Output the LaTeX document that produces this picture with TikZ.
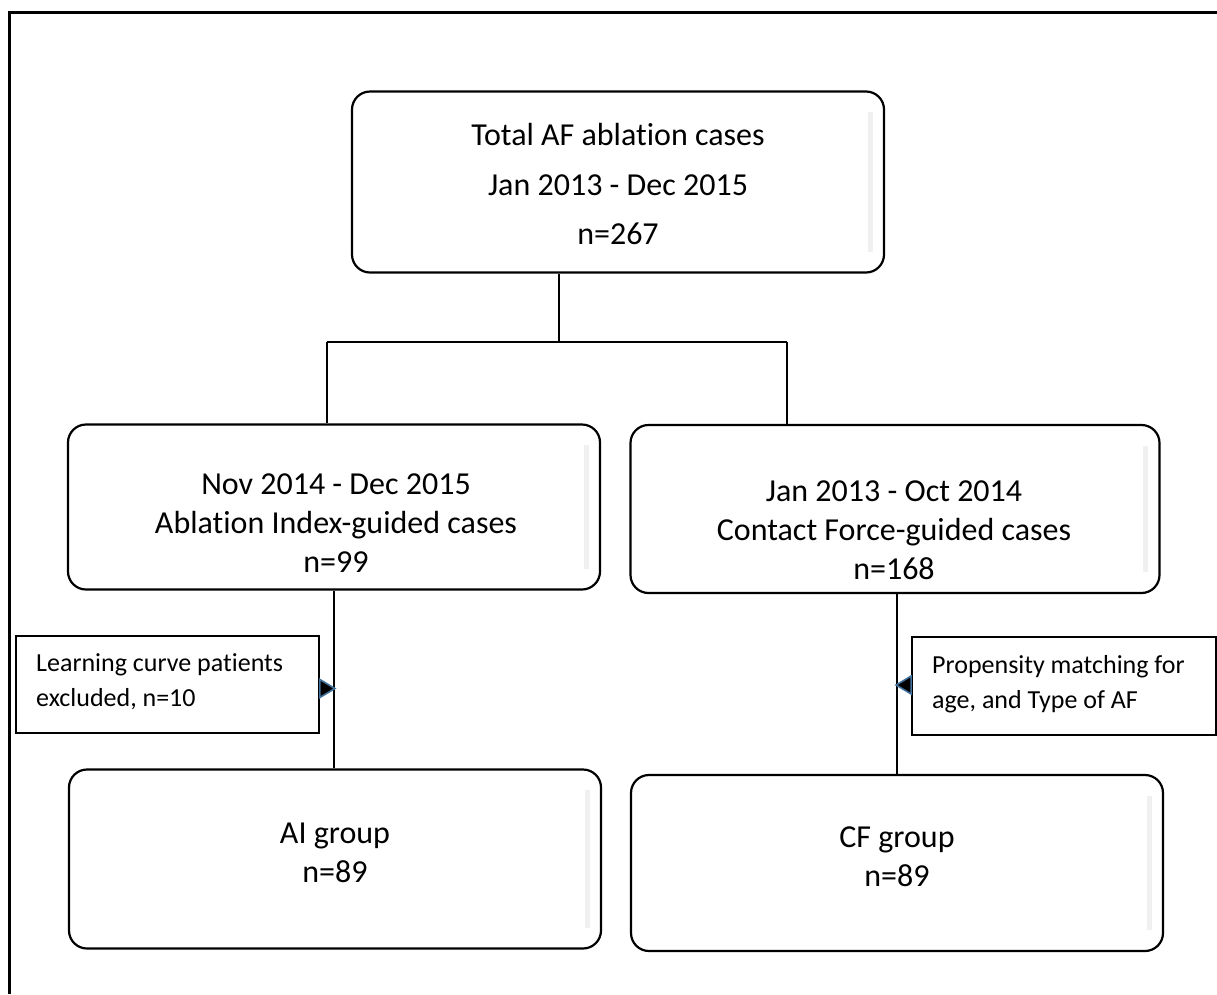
\documentclass[tikz,border=0pt]{standalone}
\usepackage{fontspec}
\setmainfont{Carlito}[Ligatures={NoCommon}]
\usetikzlibrary{calc}
\begin{document}
\begin{tikzpicture}[x=1pt,y=-1pt,
  box/.style={draw=black, line width=2.2pt, rounded corners=18pt, fill=white, inner sep=0pt},
  side/.style={draw=black, line width=1.8pt, fill=white, inner sep=0pt},
  big/.style={align=center, font=\fontsize{32}{39}\selectfont, inner sep=0pt},
  small/.style={align=left, font=\fontsize{26}{35}\selectfont, inner sep=0pt},
  conn/.style={line width=2.8pt},
  tri/.style={draw={rgb,255:red,65;green,113;blue,156}, line width=1.6pt, fill=black, line join=miter},
  strip/.style={line width=5pt, draw=black!6}
]
\useasboundingbox (0,0) rectangle (1217,994);
\draw[line width=3pt] (9,994) -- (9,12) -- (1217,12);

% boxes
\node[box, minimum width=532pt, minimum height=181pt] (top) at (618,182) {};
\node[box, minimum width=532pt, minimum height=165pt] (ml) at (334,507) {};
\node[box, minimum width=529pt, minimum height=168pt] (mr) at (895,509) {};
\node[box, minimum width=532pt, minimum height=179pt] (bl) at (335,859) {};
\node[box, minimum width=532pt, minimum height=176pt] (br) at (897,863) {};

% faint inner strips
\foreach \b in {top,ml,mr,bl,br}{
  \draw[strip] ($(\b.north east)+(-15,22)$) -- ($(\b.south east)+(-15,-22)$);
}

% texts
\node[big, font=\fontsize{32}{49}\selectfont] (topt) at (618,184) {Total AF ablation cases\\Jan 2013 - Dec 2015\\n=267};
\node[big] (mlt) at (336,523) {Nov 2014 - Dec 2015\\Ablation Index-guided cases\\n=99};
\node[big] (mrt) at (894,530) {Jan 2013 - Oct 2014\\Contact Force-guided cases\\n=168};
\node[big] (blt) at (335,853) {AI group\\n=89};
\node[big] (brt) at (897,857) {CF group\\n=89};

% connectors
\coordinate (j) at (559,342);
\coordinate (jl) at (327,342);
\coordinate (jr) at (787,342);
\draw[conn] (top.south -| j) -- (j);
\draw[conn] (jl) -- (jr);
\draw[conn] (jl) -- (ml.north -| jl);
\draw[conn] (jr) -- (mr.north -| jr);
\draw[conn] (ml.south) -- (ml.south |- bl.north);
\draw[conn] (mr.south -| br.north) -- (br.north);

% side boxes
\node[side, minimum width=303pt, minimum height=97pt] (sl) at (167.5,684.5) {};
\node[small] (slt) at (36,682) [anchor=west] {Learning curve patients\\excluded, n=10};
\node[side, minimum width=304pt, minimum height=98pt] (sr) at (1064,686) {};
\node[small] (srt) at (932,684) [anchor=west] {Propensity matching for\\age, and Type of AF};

% triangles
\draw[tri] ($(sl.east)+(0,-5)$) -- ($(sl.east)+(15,4)$) -- ($(sl.east)+(0,13)$) -- cycle;
\draw[tri] ($(sr.west)+(0,-10)$) -- ($(sr.west)+(-15,-1)$) -- ($(sr.west)+(0,8)$) -- cycle;
\end{tikzpicture}
\end{document}
